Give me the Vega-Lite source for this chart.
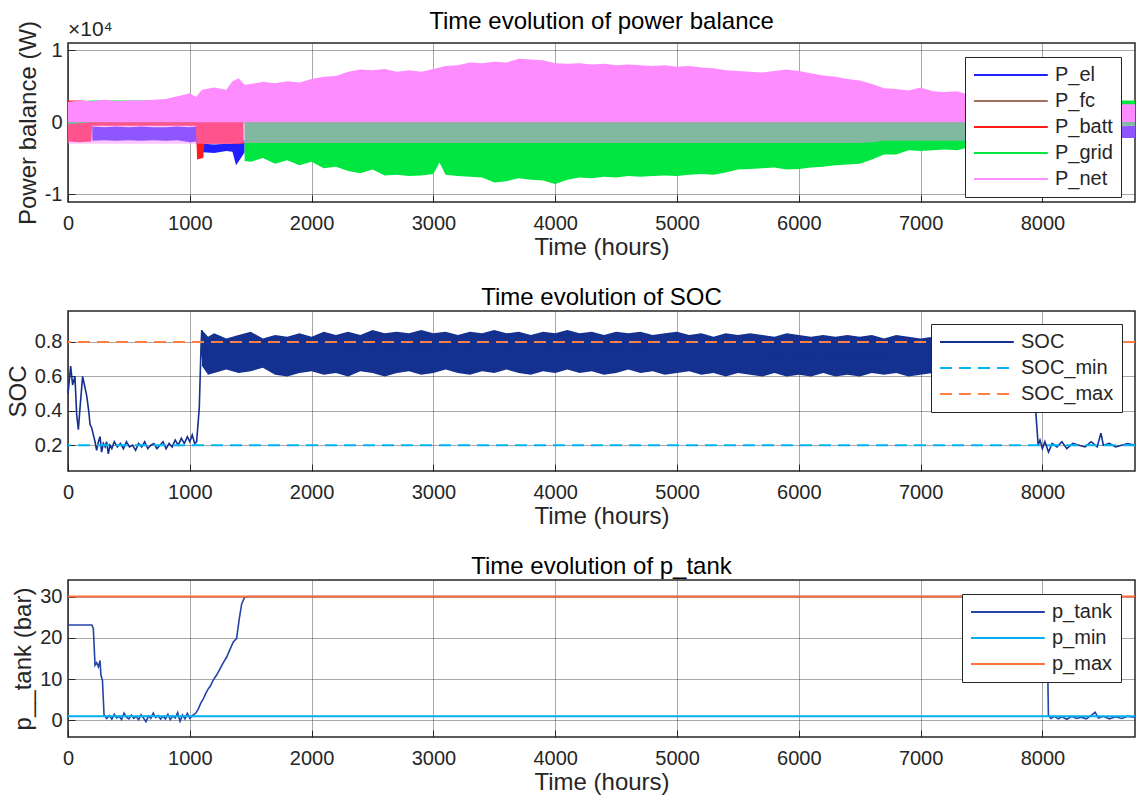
{
  "$schema": "https://vega.github.io/schema/vega-lite/v6.json",
  "padding": {"left": 5, "right": 2, "top": 9, "bottom": 2},
  "spacing": 25,
  "background": "white",
  "datasets": {
    "pb": [
      {"s":"P_el","g":1,"t":200,"lo":-2600,"hi":-600},{"s":"P_el","g":1,"t":300,"lo":-2500,"hi":-700},{"s":"P_el","g":1,"t":400,"lo":-2600,"hi":-600},{"s":"P_el","g":1,"t":500,"lo":-2500,"hi":-700},{"s":"P_el","g":1,"t":600,"lo":-2600,"hi":-600},{"s":"P_el","g":1,"t":700,"lo":-2500,"hi":-700},{"s":"P_el","g":1,"t":800,"lo":-2600,"hi":-700},{"s":"P_el","g":1,"t":900,"lo":-2500,"hi":-600},{"s":"P_el","g":1,"t":1000,"lo":-2800,"hi":-700},{"s":"P_el","g":1,"t":1050,"lo":-2700,"hi":-600},{"s":"P_el","g":1,"t":1060,"lo":-3200,"hi":-1200},{"s":"P_el","g":1,"t":1110,"lo":-4200,"hi":-3000},{"s":"P_el","g":1,"t":1200,"lo":-4300,"hi":-3100},{"s":"P_el","g":1,"t":1300,"lo":-4000,"hi":-3000},{"s":"P_el","g":1,"t":1350,"lo":-4100,"hi":-3000},{"s":"P_el","g":1,"t":1380,"lo":-6000,"hi":-2500},{"s":"P_el","g":1,"t":1420,"lo":-5000,"hi":-2500},{"s":"P_el","g":1,"t":1450,"lo":-4200,"hi":-2500},
      {"s":"P_el","g":2,"t":8000,"lo":-2000,"hi":-800},{"s":"P_el","g":2,"t":8300,"lo":-2100,"hi":-700},{"s":"P_el","g":2,"t":8600,"lo":-2200,"hi":-600},{"s":"P_el","g":2,"t":8760,"lo":-2200,"hi":-500},
      {"s":"P_fc","g":1,"t":1450,"lo":0,"hi":800},{"s":"P_fc","g":1,"t":7400,"lo":0,"hi":800},
      {"s":"P_batt","g":1,"t":0,"lo":-2700,"hi":3000},{"s":"P_batt","g":1,"t":100,"lo":-2800,"hi":3000},{"s":"P_batt","g":1,"t":190,"lo":-2700,"hi":2900},{"s":"P_batt","g":1,"t":200,"lo":-500,"hi":1500},{"s":"P_batt","g":1,"t":1050,"lo":-500,"hi":1500},{"s":"P_batt","g":1,"t":1060,"lo":-5200,"hi":0},{"s":"P_batt","g":1,"t":1110,"lo":-5000,"hi":0},{"s":"P_batt","g":1,"t":1120,"lo":-3000,"hi":0},{"s":"P_batt","g":1,"t":1440,"lo":-3000,"hi":0},
      {"s":"P_grid","g":1,"t":0,"lo":-300,"hi":2800},{"s":"P_grid","g":1,"t":200,"lo":0,"hi":3000},{"s":"P_grid","g":1,"t":1000,"lo":0,"hi":3000},{"s":"P_grid","g":1,"t":1050,"lo":0,"hi":3000},
      {"s":"P_grid","g":2,"t":1450,"lo":-5400,"hi":-100},{"s":"P_grid","g":2,"t":1500,"lo":-5500,"hi":0},{"s":"P_grid","g":2,"t":1600,"lo":-5000,"hi":0},{"s":"P_grid","g":2,"t":1700,"lo":-5800,"hi":0},{"s":"P_grid","g":2,"t":1800,"lo":-5300,"hi":0},{"s":"P_grid","g":2,"t":1900,"lo":-6000,"hi":0},{"s":"P_grid","g":2,"t":2000,"lo":-5500,"hi":0},{"s":"P_grid","g":2,"t":2100,"lo":-6400,"hi":0},{"s":"P_grid","g":2,"t":2200,"lo":-6200,"hi":0},{"s":"P_grid","g":2,"t":2300,"lo":-6800,"hi":0},{"s":"P_grid","g":2,"t":2400,"lo":-7100,"hi":0},{"s":"P_grid","g":2,"t":2500,"lo":-6600,"hi":0},{"s":"P_grid","g":2,"t":2600,"lo":-7400,"hi":0},{"s":"P_grid","g":2,"t":2700,"lo":-7300,"hi":0},{"s":"P_grid","g":2,"t":2800,"lo":-7500,"hi":0},{"s":"P_grid","g":2,"t":2900,"lo":-7400,"hi":0},{"s":"P_grid","g":2,"t":3000,"lo":-7200,"hi":0},{"s":"P_grid","g":2,"t":3050,"lo":-5600,"hi":0},{"s":"P_grid","g":2,"t":3100,"lo":-7300,"hi":0},{"s":"P_grid","g":2,"t":3200,"lo":-7500,"hi":0},{"s":"P_grid","g":2,"t":3300,"lo":-7600,"hi":0},{"s":"P_grid","g":2,"t":3400,"lo":-7700,"hi":0},{"s":"P_grid","g":2,"t":3500,"lo":-8400,"hi":0},{"s":"P_grid","g":2,"t":3600,"lo":-8200,"hi":0},{"s":"P_grid","g":2,"t":3700,"lo":-7800,"hi":0},{"s":"P_grid","g":2,"t":3800,"lo":-8000,"hi":0},{"s":"P_grid","g":2,"t":3900,"lo":-8100,"hi":0},{"s":"P_grid","g":2,"t":4000,"lo":-8600,"hi":0},{"s":"P_grid","g":2,"t":4100,"lo":-8000,"hi":0},{"s":"P_grid","g":2,"t":4200,"lo":-7700,"hi":0},{"s":"P_grid","g":2,"t":4300,"lo":-7800,"hi":0},{"s":"P_grid","g":2,"t":4400,"lo":-7600,"hi":0},{"s":"P_grid","g":2,"t":4500,"lo":-7700,"hi":0},{"s":"P_grid","g":2,"t":4600,"lo":-7500,"hi":0},{"s":"P_grid","g":2,"t":4700,"lo":-7600,"hi":0},{"s":"P_grid","g":2,"t":4800,"lo":-7500,"hi":0},{"s":"P_grid","g":2,"t":4900,"lo":-7400,"hi":0},{"s":"P_grid","g":2,"t":5000,"lo":-7500,"hi":0},{"s":"P_grid","g":2,"t":5100,"lo":-7300,"hi":0},{"s":"P_grid","g":2,"t":5200,"lo":-7200,"hi":0},{"s":"P_grid","g":2,"t":5300,"lo":-7300,"hi":0},{"s":"P_grid","g":2,"t":5400,"lo":-7000,"hi":0},{"s":"P_grid","g":2,"t":5500,"lo":-6600,"hi":0},{"s":"P_grid","g":2,"t":5600,"lo":-6500,"hi":0},{"s":"P_grid","g":2,"t":5700,"lo":-6400,"hi":0},{"s":"P_grid","g":2,"t":5800,"lo":-6300,"hi":0},{"s":"P_grid","g":2,"t":5900,"lo":-6600,"hi":0},{"s":"P_grid","g":2,"t":6000,"lo":-6500,"hi":0},{"s":"P_grid","g":2,"t":6100,"lo":-6300,"hi":0},{"s":"P_grid","g":2,"t":6200,"lo":-6200,"hi":0},{"s":"P_grid","g":2,"t":6300,"lo":-6000,"hi":0},{"s":"P_grid","g":2,"t":6400,"lo":-5900,"hi":0},{"s":"P_grid","g":2,"t":6500,"lo":-5800,"hi":0},{"s":"P_grid","g":2,"t":6600,"lo":-5200,"hi":0},{"s":"P_grid","g":2,"t":6700,"lo":-4500,"hi":0},{"s":"P_grid","g":2,"t":6800,"lo":-4500,"hi":0},{"s":"P_grid","g":2,"t":6900,"lo":-3900,"hi":0},{"s":"P_grid","g":2,"t":7000,"lo":-4000,"hi":0},{"s":"P_grid","g":2,"t":7100,"lo":-3900,"hi":0},{"s":"P_grid","g":2,"t":7200,"lo":-3800,"hi":0},{"s":"P_grid","g":2,"t":7300,"lo":-3900,"hi":0},{"s":"P_grid","g":2,"t":7400,"lo":-3500,"hi":0},{"s":"P_grid","g":2,"t":7500,"lo":-3000,"hi":2500},{"s":"P_grid","g":2,"t":8000,"lo":-500,"hi":3000},{"s":"P_grid","g":2,"t":8760,"lo":-500,"hi":3000},
      {"s":"P_net","g":1,"t":0,"lo":-3000,"hi":2800},{"s":"P_net","g":1,"t":100,"lo":-3000,"hi":3000},{"s":"P_net","g":1,"t":200,"lo":-3000,"hi":2900},{"s":"P_net","g":1,"t":300,"lo":-3000,"hi":3100},{"s":"P_net","g":1,"t":400,"lo":-3000,"hi":2900},{"s":"P_net","g":1,"t":500,"lo":-3000,"hi":3000},{"s":"P_net","g":1,"t":600,"lo":-3000,"hi":3000},{"s":"P_net","g":1,"t":700,"lo":-3000,"hi":3100},{"s":"P_net","g":1,"t":800,"lo":-3000,"hi":3200},{"s":"P_net","g":1,"t":900,"lo":-3000,"hi":3600},{"s":"P_net","g":1,"t":1000,"lo":-3000,"hi":4000},{"s":"P_net","g":1,"t":1050,"lo":-3000,"hi":3500},{"s":"P_net","g":1,"t":1100,"lo":-3000,"hi":4500},{"s":"P_net","g":1,"t":1200,"lo":-3000,"hi":4800},{"s":"P_net","g":1,"t":1300,"lo":-3000,"hi":4500},{"s":"P_net","g":1,"t":1350,"lo":-3000,"hi":5700},{"s":"P_net","g":1,"t":1400,"lo":-3000,"hi":6100},{"s":"P_net","g":1,"t":1450,"lo":-2900,"hi":5200},{"s":"P_net","g":1,"t":1500,"lo":-2900,"hi":5300},{"s":"P_net","g":1,"t":1600,"lo":-2900,"hi":5600},{"s":"P_net","g":1,"t":1700,"lo":-2900,"hi":5400},{"s":"P_net","g":1,"t":1800,"lo":-2900,"hi":5700},{"s":"P_net","g":1,"t":1900,"lo":-2900,"hi":5500},{"s":"P_net","g":1,"t":2000,"lo":-2900,"hi":6000},{"s":"P_net","g":1,"t":2100,"lo":-2900,"hi":6300},{"s":"P_net","g":1,"t":2200,"lo":-2900,"hi":6400},{"s":"P_net","g":1,"t":2300,"lo":-2900,"hi":7000},{"s":"P_net","g":1,"t":2400,"lo":-2900,"hi":7300},{"s":"P_net","g":1,"t":2500,"lo":-2900,"hi":7200},{"s":"P_net","g":1,"t":2600,"lo":-2900,"hi":7400},{"s":"P_net","g":1,"t":2700,"lo":-2900,"hi":7000},{"s":"P_net","g":1,"t":2800,"lo":-2900,"hi":7200},{"s":"P_net","g":1,"t":2900,"lo":-2900,"hi":7000},{"s":"P_net","g":1,"t":3000,"lo":-2900,"hi":7400},{"s":"P_net","g":1,"t":3100,"lo":-2900,"hi":7800},{"s":"P_net","g":1,"t":3200,"lo":-2900,"hi":7900},{"s":"P_net","g":1,"t":3300,"lo":-2900,"hi":8300},{"s":"P_net","g":1,"t":3400,"lo":-2900,"hi":8200},{"s":"P_net","g":1,"t":3500,"lo":-2900,"hi":8400},{"s":"P_net","g":1,"t":3600,"lo":-2900,"hi":8300},{"s":"P_net","g":1,"t":3700,"lo":-2900,"hi":8800},{"s":"P_net","g":1,"t":3800,"lo":-2900,"hi":8700},{"s":"P_net","g":1,"t":3900,"lo":-2900,"hi":8600},{"s":"P_net","g":1,"t":4000,"lo":-2900,"hi":8200},{"s":"P_net","g":1,"t":4100,"lo":-2900,"hi":8100},{"s":"P_net","g":1,"t":4200,"lo":-2900,"hi":8200},{"s":"P_net","g":1,"t":4300,"lo":-2900,"hi":8000},{"s":"P_net","g":1,"t":4400,"lo":-2900,"hi":8100},{"s":"P_net","g":1,"t":4500,"lo":-2900,"hi":7900},{"s":"P_net","g":1,"t":4600,"lo":-2900,"hi":8000},{"s":"P_net","g":1,"t":4700,"lo":-2900,"hi":7900},{"s":"P_net","g":1,"t":4800,"lo":-2900,"hi":7800},{"s":"P_net","g":1,"t":4900,"lo":-2900,"hi":7900},{"s":"P_net","g":1,"t":5000,"lo":-2900,"hi":7700},{"s":"P_net","g":1,"t":5100,"lo":-2900,"hi":7800},{"s":"P_net","g":1,"t":5200,"lo":-2900,"hi":7600},{"s":"P_net","g":1,"t":5300,"lo":-2900,"hi":7500},{"s":"P_net","g":1,"t":5400,"lo":-2900,"hi":7200},{"s":"P_net","g":1,"t":5500,"lo":-2900,"hi":7100},{"s":"P_net","g":1,"t":5600,"lo":-2900,"hi":7000},{"s":"P_net","g":1,"t":5700,"lo":-2900,"hi":6900},{"s":"P_net","g":1,"t":5800,"lo":-2900,"hi":7100},{"s":"P_net","g":1,"t":5900,"lo":-2900,"hi":7300},{"s":"P_net","g":1,"t":6000,"lo":-2900,"hi":7100},{"s":"P_net","g":1,"t":6100,"lo":-2900,"hi":6800},{"s":"P_net","g":1,"t":6200,"lo":-2900,"hi":6500},{"s":"P_net","g":1,"t":6300,"lo":-2900,"hi":6300},{"s":"P_net","g":1,"t":6400,"lo":-2900,"hi":6000},{"s":"P_net","g":1,"t":6500,"lo":-2900,"hi":5800},{"s":"P_net","g":1,"t":6600,"lo":-2800,"hi":5300},{"s":"P_net","g":1,"t":6700,"lo":-2600,"hi":4700},{"s":"P_net","g":1,"t":6800,"lo":-2600,"hi":4600},{"s":"P_net","g":1,"t":6900,"lo":-2600,"hi":4400},{"s":"P_net","g":1,"t":7000,"lo":-2600,"hi":4800},{"s":"P_net","g":1,"t":7100,"lo":-2600,"hi":4300},{"s":"P_net","g":1,"t":7200,"lo":-2600,"hi":4200},{"s":"P_net","g":1,"t":7300,"lo":-2600,"hi":4300},{"s":"P_net","g":1,"t":7400,"lo":-2600,"hi":3800},{"s":"P_net","g":1,"t":7500,"lo":-2500,"hi":3000},{"s":"P_net","g":1,"t":8000,"lo":-2300,"hi":2800},{"s":"P_net","g":1,"t":8600,"lo":-2200,"hi":2500},{"s":"P_net","g":1,"t":8760,"lo":-2200,"hi":2500}
    ],
    "soc": [
      {"t":0,"v":0.5},{"t":3,"v":0.52},{"t":22,"v":0.66},{"t":38,"v":0.55},{"t":57,"v":0.6},{"t":71,"v":0.38},{"t":85,"v":0.29},{"t":99,"v":0.42},{"t":120,"v":0.6},{"t":135,"v":0.55},{"t":153,"v":0.49},{"t":170,"v":0.4},{"t":181,"v":0.32},{"t":195,"v":0.3},{"t":208,"v":0.26},{"t":222,"v":0.22},{"t":235,"v":0.17},{"t":250,"v":0.22},{"t":263,"v":0.25},{"t":276,"v":0.16},{"t":290,"v":0.21},{"t":305,"v":0.19},{"t":317,"v":0.22},{"t":331,"v":0.15},{"t":345,"v":0.2},{"t":360,"v":0.18},{"t":380,"v":0.22},{"t":405,"v":0.19},{"t":430,"v":0.21},{"t":455,"v":0.18},{"t":480,"v":0.22},{"t":505,"v":0.19},{"t":530,"v":0.2},{"t":555,"v":0.17},{"t":580,"v":0.21},{"t":605,"v":0.19},{"t":630,"v":0.22},{"t":655,"v":0.18},{"t":680,"v":0.2},{"t":705,"v":0.21},{"t":730,"v":0.18},{"t":755,"v":0.2},{"t":780,"v":0.22},{"t":805,"v":0.18},{"t":830,"v":0.21},{"t":855,"v":0.19},{"t":880,"v":0.23},{"t":905,"v":0.2},{"t":930,"v":0.24},{"t":955,"v":0.21},{"t":980,"v":0.25},{"t":1000,"v":0.22},{"t":1020,"v":0.26},{"t":1040,"v":0.21},{"t":1056,"v":0.22},{"t":1078,"v":0.42},{"t":1092,"v":0.77},{"t":1098,"v":0.87},{"t":1105,"v":0.7},{"t":1110,"v":0.8},
      {"t":7900,"v":0.7},{"t":7930,"v":0.62},{"t":7945,"v":0.4},{"t":7955,"v":0.3},{"t":7965,"v":0.2},{"t":7980,"v":0.23},{"t":8000,"v":0.18},{"t":8020,"v":0.22},{"t":8050,"v":0.16},{"t":8080,"v":0.21},{"t":8120,"v":0.19},{"t":8160,"v":0.22},{"t":8200,"v":0.18},{"t":8250,"v":0.21},{"t":8300,"v":0.2},{"t":8350,"v":0.19},{"t":8400,"v":0.22},{"t":8450,"v":0.19},{"t":8480,"v":0.27},{"t":8500,"v":0.2},{"t":8550,"v":0.21},{"t":8600,"v":0.19},{"t":8650,"v":0.2},{"t":8700,"v":0.21},{"t":8760,"v":0.2}
    ],
    "socband": [
      {"t":1100,"lo":0.66,"hi":0.87},{"t":1150,"lo":0.61,"hi":0.83},{"t":1200,"lo":0.62,"hi":0.85},{"t":1300,"lo":0.64,"hi":0.82},{"t":1400,"lo":0.62,"hi":0.84},{"t":1500,"lo":0.63,"hi":0.86},{"t":1600,"lo":0.65,"hi":0.82},{"t":1700,"lo":0.61,"hi":0.84},{"t":1800,"lo":0.6,"hi":0.83},{"t":1900,"lo":0.62,"hi":0.85},{"t":2000,"lo":0.63,"hi":0.83},{"t":2100,"lo":0.61,"hi":0.86},{"t":2200,"lo":0.62,"hi":0.84},{"t":2300,"lo":0.6,"hi":0.86},{"t":2400,"lo":0.63,"hi":0.84},{"t":2500,"lo":0.62,"hi":0.87},{"t":2600,"lo":0.6,"hi":0.85},{"t":2700,"lo":0.62,"hi":0.86},{"t":2800,"lo":0.63,"hi":0.85},{"t":2900,"lo":0.61,"hi":0.87},{"t":3000,"lo":0.62,"hi":0.85},{"t":3100,"lo":0.64,"hi":0.86},{"t":3200,"lo":0.62,"hi":0.84},{"t":3300,"lo":0.61,"hi":0.86},{"t":3400,"lo":0.63,"hi":0.85},{"t":3500,"lo":0.62,"hi":0.87},{"t":3600,"lo":0.64,"hi":0.85},{"t":3700,"lo":0.62,"hi":0.86},{"t":3800,"lo":0.61,"hi":0.84},{"t":3900,"lo":0.63,"hi":0.86},{"t":4000,"lo":0.62,"hi":0.85},{"t":4100,"lo":0.64,"hi":0.87},{"t":4200,"lo":0.62,"hi":0.85},{"t":4300,"lo":0.63,"hi":0.86},{"t":4400,"lo":0.61,"hi":0.84},{"t":4500,"lo":0.62,"hi":0.86},{"t":4600,"lo":0.64,"hi":0.85},{"t":4700,"lo":0.62,"hi":0.86},{"t":4800,"lo":0.63,"hi":0.84},{"t":4900,"lo":0.61,"hi":0.85},{"t":5000,"lo":0.62,"hi":0.86},{"t":5100,"lo":0.63,"hi":0.84},{"t":5200,"lo":0.61,"hi":0.85},{"t":5300,"lo":0.62,"hi":0.83},{"t":5400,"lo":0.6,"hi":0.85},{"t":5500,"lo":0.62,"hi":0.84},{"t":5600,"lo":0.61,"hi":0.85},{"t":5700,"lo":0.6,"hi":0.84},{"t":5800,"lo":0.62,"hi":0.83},{"t":5900,"lo":0.6,"hi":0.85},{"t":6000,"lo":0.61,"hi":0.84},{"t":6100,"lo":0.6,"hi":0.83},{"t":6200,"lo":0.62,"hi":0.84},{"t":6300,"lo":0.6,"hi":0.83},{"t":6400,"lo":0.61,"hi":0.84},{"t":6500,"lo":0.6,"hi":0.83},{"t":6600,"lo":0.62,"hi":0.84},{"t":6700,"lo":0.61,"hi":0.82},{"t":6800,"lo":0.62,"hi":0.84},{"t":6900,"lo":0.6,"hi":0.83},{"t":7000,"lo":0.61,"hi":0.82},{"t":7100,"lo":0.62,"hi":0.83},{"t":7500,"lo":0.63,"hi":0.82},{"t":7900,"lo":0.64,"hi":0.82}
    ],
    "ptank": [
      {"t":0,"v":23.1},{"t":196,"v":23.1},{"t":208,"v":22.2},{"t":222,"v":13.4},{"t":235,"v":14},{"t":250,"v":13},{"t":263,"v":14.5},{"t":270,"v":11},{"t":283,"v":9.7},{"t":296,"v":1.3},{"t":318,"v":0.5},{"t":340,"v":1.2},{"t":360,"v":0.3},{"t":380,"v":1.5},{"t":400,"v":0.6},{"t":420,"v":1.0},{"t":440,"v":0.2},{"t":460,"v":1.8},{"t":480,"v":0.8},{"t":500,"v":0.4},{"t":520,"v":1.3},{"t":540,"v":0.5},{"t":560,"v":1.0},{"t":580,"v":0.2},{"t":600,"v":1.4},{"t":620,"v":0.6},{"t":640,"v":-0.3},{"t":660,"v":1.1},{"t":680,"v":0.5},{"t":700,"v":1.8},{"t":720,"v":0.7},{"t":740,"v":1.2},{"t":760,"v":0.3},{"t":780,"v":1.0},{"t":800,"v":0.4},{"t":820,"v":1.5},{"t":840,"v":0.2},{"t":860,"v":1.1},{"t":880,"v":0.6},{"t":900,"v":1.9},{"t":920,"v":-0.2},{"t":940,"v":1.3},{"t":960,"v":0.4},{"t":980,"v":1.7},{"t":1000,"v":0.5},{"t":1026,"v":1.3},{"t":1050,"v":1.8},{"t":1070,"v":2.8},{"t":1090,"v":4.2},{"t":1111,"v":5.2},{"t":1130,"v":6.5},{"t":1150,"v":7.6},{"t":1170,"v":8.4},{"t":1191,"v":9.7},{"t":1220,"v":11},{"t":1248,"v":12.5},{"t":1275,"v":14},{"t":1302,"v":15.3},{"t":1330,"v":17.2},{"t":1357,"v":19},{"t":1384,"v":19.8},{"t":1406,"v":24.6},{"t":1426,"v":28.2},{"t":1451,"v":29.9},{"t":1478,"v":30},{"t":8030,"v":30},{"t":8040,"v":20},{"t":8049,"v":1.3},{"t":8070,"v":0.5},{"t":8100,"v":1.0},{"t":8130,"v":0.4},{"t":8160,"v":0.9},{"t":8200,"v":0.3},{"t":8240,"v":1.0},{"t":8280,"v":0.5},{"t":8320,"v":0.8},{"t":8360,"v":0.4},{"t":8400,"v":1.2},{"t":8432,"v":2.0},{"t":8460,"v":0.6},{"t":8500,"v":1.0},{"t":8550,"v":0.4},{"t":8600,"v":0.9},{"t":8650,"v":0.5},{"t":8700,"v":1.0},{"t":8760,"v":0.8}
    ],
    "lims": [
      {"s":"SOC_min","v":0.2},{"s":"SOC_max","v":0.8},{"s":"p_min","v":1},{"s":"p_max","v":30}
    ],
    "note": [{"t":0,"v":11000,"txt":"×10⁴"}]
  },
  "vconcat": [
    {
      "width": 1067, "height": 159,
      "title": {"text": "Time evolution of power balance", "offset": -15},
      "encoding": {
        "x": {"field": "t", "type": "quantitative", "scale": {"domain": [0, 8760], "nice": false, "zero": false},
              "axis": {"values": [0,1000,2000,3000,4000,5000,6000,7000,8000], "format": "d", "title": "Time (hours)"}}
      },
      "layer": [
        {
          "data": {"name": "pb"},
          "transform": [{"filter": "datum.s == 'P_el'"}],
          "mark": {"type": "area", "color": "#1f1fff"},
          "encoding": {
            "y": {"field": "lo", "type": "quantitative", "scale": {"domain": [-11100, 11000], "nice": false, "zero": false},
                  "axis": {"values": [-10000, 0, 10000], "labelExpr": "datum.value/10000", "title": "Power balance (W)"}},
            "y2": {"field": "hi"},
            "detail": {"field": "g"}
          }
        },
        {
          "data": {"name": "pb"},
          "transform": [{"filter": "datum.s == 'P_fc'"}],
          "mark": {"type": "area", "color": "#a0705f"},
          "encoding": {"y": {"field": "lo", "type": "quantitative"}, "y2": {"field": "hi"}, "detail": {"field": "g"}}
        },
        {
          "data": {"name": "pb"},
          "transform": [{"filter": "datum.s == 'P_batt'"}],
          "mark": {"type": "area", "color": "#ff1a1a"},
          "encoding": {"y": {"field": "lo", "type": "quantitative"}, "y2": {"field": "hi"}, "detail": {"field": "g"}}
        },
        {
          "data": {"name": "pb"},
          "transform": [{"filter": "datum.s == 'P_grid'"}],
          "mark": {"type": "area", "color": "#00e640"},
          "encoding": {"y": {"field": "lo", "type": "quantitative"}, "y2": {"field": "hi"}, "detail": {"field": "g"}}
        },
        {
          "data": {"name": "pb"},
          "transform": [{"filter": "datum.s == 'P_net'"}],
          "mark": {"type": "area", "color": "#ff8cff", "opacity": 0.5},
          "encoding": {"y": {"field": "lo", "type": "quantitative"}, "y2": {"datum": 0}}
        },
        {
          "data": {"name": "pb"},
          "transform": [{"filter": "datum.s == 'P_net'"}],
          "mark": {"type": "area", "color": "#ff8cff"},
          "encoding": {"y": {"field": "hi", "type": "quantitative"}, "y2": {"datum": 0}}
        },
        {
          "data": {"name": "pb"},
          "transform": [{"filter": "datum.t < 0"}],
          "mark": {"type": "line"},
          "encoding": {
            "y": {"field": "lo", "type": "quantitative"},
            "color": {"field": "s", "type": "nominal", "scale": {"domain": ["P_el","P_fc","P_batt","P_grid","P_net"], "range": ["#1f1fff","#a0705f","#ff1a1a","#00e640","#ff8cff"]},
                      "legend": {"title": null, "orient": "top-right", "offset": 14, "zindex": 2, "symbolType": "M-1,0H7.2", "symbolSize": 324, "symbolStrokeWidth": 2, "labelOffset": 62, "rowPadding": 6, "padding": 8}}
          }
        },
        {
          "data": {"name": "note"},
          "mark": {"type": "text", "align": "left", "baseline": "alphabetic", "dy": -7, "fontSize": 21, "color": "#262626"},
          "encoding": {
            "y": {"field": "v", "type": "quantitative"},
            "text": {"field": "txt"}
          }
        }
      ]
    },
    {
      "width": 1067, "height": 160,
      "title": {"text": "Time evolution of SOC", "offset": 1},
      "encoding": {
        "x": {"field": "t", "type": "quantitative", "scale": {"domain": [0, 8760], "nice": false, "zero": false},
              "axis": {"values": [0,1000,2000,3000,4000,5000,6000,7000,8000], "format": "d", "title": "Time (hours)"}}
      },
      "layer": [
        {
          "data": {"name": "socband"},
          "mark": {"type": "area", "color": "#15318f"},
          "encoding": {
            "y": {"field": "lo", "type": "quantitative", "scale": {"domain": [0.05, 0.98], "nice": false, "zero": false},
                  "axis": {"values": [0.2, 0.4, 0.6, 0.8], "format": ".1f", "title": "SOC"}},
            "y2": {"field": "hi"}
          }
        },
        {
          "data": {"name": "soc"},
          "mark": {"type": "line", "strokeWidth": 1.6, "color": "#15318f"},
          "encoding": {"y": {"field": "v", "type": "quantitative"}}
        },
        {
          "data": {"name": "lims"},
          "transform": [{"filter": "datum.s == 'SOC_min'"}],
          "mark": {"type": "rule", "strokeWidth": 2, "color": "#00b4f5", "strokeDash": [12, 7]},
          "encoding": {"y": {"field": "v", "type": "quantitative"}, "x": null}
        },
        {
          "data": {"name": "lims"},
          "transform": [{"filter": "datum.s == 'SOC_max'"}],
          "mark": {"type": "rule", "strokeWidth": 2, "color": "#ff7f45", "strokeDash": [12, 7]},
          "encoding": {"y": {"field": "v", "type": "quantitative"}, "x": null}
        },
        {
          "data": {"name": "soc"},
          "transform": [{"filter": "datum.t < 0"}],
          "mark": {"type": "line"},
          "encoding": {
            "y": {"field": "v", "type": "quantitative"},
            "color": {"datum": "SOC", "type": "nominal", "scale": {"domain": ["SOC","SOC_min","SOC_max"], "range": ["#15318f","#00b4f5","#ff7f45"]},
                      "legend": {"title": null, "orient": "top-right", "offset": 13, "zindex": 2, "symbolType": "M-1,0H7.2", "symbolSize": 324, "symbolStrokeWidth": 2, "labelOffset": 62, "rowPadding": 6, "padding": 8}},
            "strokeDash": {"datum": "SOC", "type": "nominal", "scale": {"domain": ["SOC","SOC_min","SOC_max"], "range": [[1,0],[12,7],[12,7]]},
                      "legend": {"title": null, "orient": "top-right", "offset": 13, "zindex": 2, "symbolType": "M-1,0H7.2", "symbolSize": 324, "symbolStrokeWidth": 2, "labelOffset": 62, "rowPadding": 6, "padding": 8}}
          }
        }
      ]
    },
    {
      "width": 1067, "height": 157,
      "title": {"text": "Time evolution of p_tank", "offset": 1},
      "encoding": {
        "x": {"field": "t", "type": "quantitative", "scale": {"domain": [0, 8760], "nice": false, "zero": false},
              "axis": {"values": [0,1000,2000,3000,4000,5000,6000,7000,8000], "format": "d", "title": "Time (hours)"}}
      },
      "layer": [
        {
          "data": {"name": "ptank"},
          "mark": {"type": "line", "strokeWidth": 1.6, "color": "#2444a8"},
          "encoding": {
            "y": {"field": "v", "type": "quantitative", "scale": {"domain": [-4, 34], "nice": false, "zero": false},
                  "axis": {"values": [0, 10, 20, 30], "format": "d", "title": "p__tank (bar)"}}
          }
        },
        {
          "data": {"name": "lims"},
          "transform": [{"filter": "datum.s == 'p_min'"}],
          "mark": {"type": "rule", "strokeWidth": 2, "color": "#00b0f0"},
          "encoding": {"y": {"field": "v", "type": "quantitative"}, "x": null}
        },
        {
          "data": {"name": "lims"},
          "transform": [{"filter": "datum.s == 'p_max'"}],
          "mark": {"type": "rule", "strokeWidth": 2, "color": "#ff6f3c"},
          "encoding": {"y": {"field": "v", "type": "quantitative"}, "x": null}
        },
        {
          "data": {"name": "ptank"},
          "transform": [{"filter": "datum.t < 0"}],
          "mark": {"type": "line"},
          "encoding": {
            "y": {"field": "v", "type": "quantitative"},
            "color": {"datum": "p_tank", "type": "nominal", "scale": {"domain": ["p_tank","p_min","p_max"], "range": ["#2444a8","#00b0f0","#ff6f3c"]},
                      "legend": {"title": null, "orient": "top-right", "offset": 14, "zindex": 2, "symbolType": "M-1,0H7.2", "symbolSize": 324, "symbolStrokeWidth": 2, "labelOffset": 62, "rowPadding": 6, "padding": 8}}
          }
        }
      ]
    }
  ],
  "resolve": {
    "scale": {"color": "independent", "strokeDash": "independent", "y": "independent"},
    "legend": {"color": "independent", "strokeDash": "independent"}
  },
  "config": {
    "font": "Liberation Sans",
    "view": {"stroke": "#262626", "strokeWidth": 1.5},
    "axis": {"labelFontSize": 20, "titleFontSize": 24, "titleFontWeight": "normal", "labelColor": "#262626", "titleColor": "#262626",
             "grid": true, "gridColor": "#262626", "gridOpacity": 0.4, "domain": false, "ticks": true, "tickColor": "#262626", "tickSize": -7, "zindex": 1, "labelFlush": false},
    "axisX": {"labelPadding": 18, "titlePadding": 2},
    "axisY": {"labelPadding": 13, "titlePadding": 4},
    "title": {"fontSize": 24, "fontWeight": "normal", "color": "#000000", "offset": 8},
    "legend": {"labelFontSize": 20, "labelColor": "#262626", "fillColor": "white", "strokeColor": "#262626", "cornerRadius": 0}
  }
}
